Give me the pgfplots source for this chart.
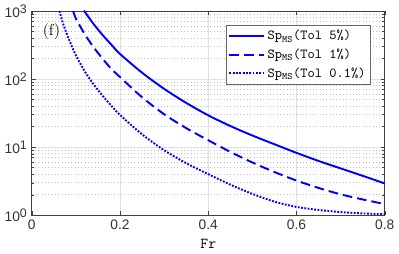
\documentclass[border=0pt]{standalone}
\usepackage{fontspec}
\setsansfont{Liberation Sans}
\usepackage{pgfplots}
\pgfplotsset{compat=1.18}
\begin{document}
\begin{tikzpicture}
\begin{axis}[
  scale only axis, width=256pt, height=148pt,
  ymode=log, xmin=0, xmax=0.8, ymin=1, ymax=1000,
  xtick={0,0.2,0.4,0.6,0.8},
  xticklabels={0,0.2,0.4,0.6,0.8},
  ytick={1,10,100,1000},
  yticklabels={10\raisebox{0.55ex}{\small 0},10\raisebox{0.55ex}{\small 1},10\raisebox{0.55ex}{\small 2},10\raisebox{0.55ex}{\small 3}},
  ticklabel style={font=\sffamily\fontsize{10}{12}\selectfont, text=black!80},
  /pgf/number format/assume math mode=true,
  tick align=inside, axis line style={black!75, line width=0.6pt},
  major tick style={black!75}, minor tick style={black!75},
  major tick length=3pt, minor tick length=1.8pt,
  grid=both,
  major grid style={black!12, line width=0.5pt},
  minor y grid style={black!25, dotted, line width=0.5pt},
  minor x grid style={draw=none},
  xlabel={\ttfamily Fr}, xlabel style={font=\fontsize{11}{12}\selectfont, yshift=0pt},
  legend style={at={(0.961,0.932)}, anchor=north east, draw=black!60, fill=white,
    font=\fontsize{10}{12}\selectfont, row sep=1pt, inner sep=1.8pt},
  legend cell align=left,
  legend image code/.code={\draw[#1] (0pt,0pt) -- (25pt,0pt);},
  clip=true,
]
\addplot[blue, line width=1.4pt, solid, smooth] coordinates {
(0.119,1000) (0.12,977) (0.14,646) (0.16,448) (0.18,322) (0.2,234) (0.25,124) (0.3,71.8) (0.35,44.6) (0.4,29.3) (0.45,20.4) (0.5,14.8) (0.55,11.0) (0.6,8.22) (0.65,6.25) (0.7,4.86) (0.75,3.78) (0.8,2.92)};
\addlegendentry{\ttfamily Sp\textsubscript{MS}(Tol 5\%)}
\addplot[blue, line width=1.4pt, dash pattern=on 7pt off 3.6pt, smooth] coordinates {
(0.094,1000) (0.1,778) (0.12,458) (0.14,295) (0.16,201) (0.18,142) (0.2,107) (0.25,54) (0.3,30.4) (0.35,19) (0.4,12.6) (0.45,8.5) (0.5,5.94) (0.55,4.3) (0.6,3.22) (0.65,2.51) (0.7,2.02) (0.75,1.70) (0.8,1.455)};
\addlegendentry{\ttfamily Sp\textsubscript{MS}(Tol 1\%)}
\addplot[blue, line width=1.4pt, dash pattern=on 1.3pt off 1.1pt, smooth] coordinates {
(0.0628,1000) (0.07,682) (0.08,451) (0.09,312) (0.1,224) (0.12,130) (0.14,84) (0.16,57.5) (0.18,40.7) (0.2,29.7) (0.25,15.4) (0.3,9.0) (0.35,5.8) (0.4,4.0) (0.45,2.8) (0.5,2.05) (0.55,1.58) (0.6,1.32) (0.65,1.19) (0.7,1.11) (0.75,1.06) (0.8,1.03)};
\addlegendentry{\ttfamily Sp\textsubscript{MS}(Tol 0.1\%)}
\node[anchor=north west, font=\fontsize{11.5}{12}\selectfont] at (rel axis cs:0.018,0.96) {(f)};
\end{axis}
\end{tikzpicture}
\end{document}
